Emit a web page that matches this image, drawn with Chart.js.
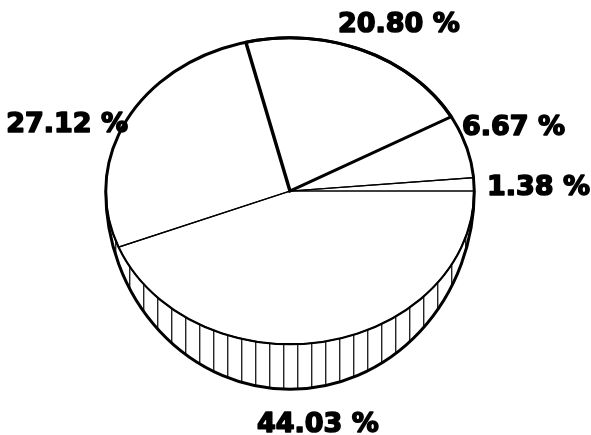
<!DOCTYPE html>
<html><head><meta charset="utf-8">
<script src="https://cdn.jsdelivr.net/npm/chart.js@4/dist/chart.umd.min.js"></script>
<style>html,body{margin:0;padding:0;background:#fff;}#wrap{width:591px;height:435px;position:relative;background:#fff;}</style>
</head><body><div id="wrap"><canvas id="c" width="591" height="435"></canvas></div>
<script>
// Slices listed clockwise starting from the east (3 o'clock) direction
const categories = ['44.03 %', '27.12 %', '20.80 %', '6.67 %', '1.38 %'];
const shares = [44.03, 27.12, 20.80, 6.67, 1.38];

const labelPlaces = [
  {x: 257, y: 432, align: 'left'},
  {x: 128, y: 132, align: 'right'},
  {x: 338, y: 32, align: 'left'},
  {x: 462, y: 135, align: 'left'},
  {x: 487, y: 195, align: 'left'}
];
const squash = 153 / 184;     // top face ellipse ratio
const sideRatio = 198 / 184;  // lower rim ellipse ratio

const pie3d = {
  id: 'pie3d',
  beforeDatasetsDraw(chart) {
    const a = chart.getDatasetMeta(0).data[0];
    const ctx = chart.ctx;
    ctx.save();
    ctx.translate(a.x, a.y);
    ctx.scale(1, squash);
    ctx.translate(-a.x, -a.y);
  },
  afterDatasetsDraw(chart) {
    const ctx = chart.ctx;
    ctx.restore();
    const a = chart.getDatasetMeta(0).data[0];
    const cx = a.x, cy = a.y, r = a.outerRadius;
    const ryIn = r * squash, ryOut = r * sideRatio;
    ctx.save();
    ctx.strokeStyle = '#000';
    // hatch lines on the side
    ctx.lineWidth = 1.2;
    for (let x = cx - r + 10; x < cx + r - 6; x += 14) {
      const t = (x - cx) / r;
      const s = Math.sqrt(Math.max(0, 1 - t * t));
      ctx.beginPath();
      ctx.moveTo(x, cy + ryIn * s);
      ctx.lineTo(x, cy + ryOut * s);
      ctx.stroke();
    }
    // side outer rim
    ctx.lineWidth = 3;
    ctx.beginPath();
    ctx.ellipse(cx, cy, r, ryOut, 0, 0, Math.PI, false);
    ctx.stroke();
    // top face outline
    ctx.lineWidth = 3;
    ctx.beginPath();
    ctx.ellipse(cx, cy, r, ryIn, 0, Math.PI, 2 * Math.PI, false);
    ctx.stroke();
    ctx.lineWidth = 2.2;
    ctx.beginPath();
    ctx.ellipse(cx, cy, r, ryIn, 0, 0, Math.PI, false);
    ctx.stroke();
    // labels
    ctx.fillStyle = '#000';
    ctx.font = 'bold 27px "DejaVu Sans"';
    ctx.textBaseline = 'alphabetic';
    ctx.lineWidth = 1.6;
    ctx.lineJoin = 'round';
    chart.data.labels.forEach((lab, i) => {
      const p = labelPlaces[i];
      ctx.textAlign = p.align;
      ctx.fillText(lab, p.x, p.y);
      ctx.strokeText(lab, p.x, p.y);
    });
    ctx.restore();
  }
};

new Chart(document.getElementById('c'), {
  type: 'pie',
  data: {
    labels: categories,
    datasets: [{
      data: shares,
      backgroundColor: 'rgba(0,0,0,0)',
      borderColor: '#000',
      borderWidth: [1.5, 1.5, 3.5, 1.5, 1.5],
      borderJoinStyle: 'miter'
    }]
  },
  options: {
    responsive: false,
    animation: false,
    rotation: 90,
    layout: {padding: {left: 104, right: 115, top: 5, bottom: 58}},
    plugins: {legend: {display: false}, tooltip: {enabled: false}}
  },
  plugins: [pie3d]
});
</script>
</body></html>
